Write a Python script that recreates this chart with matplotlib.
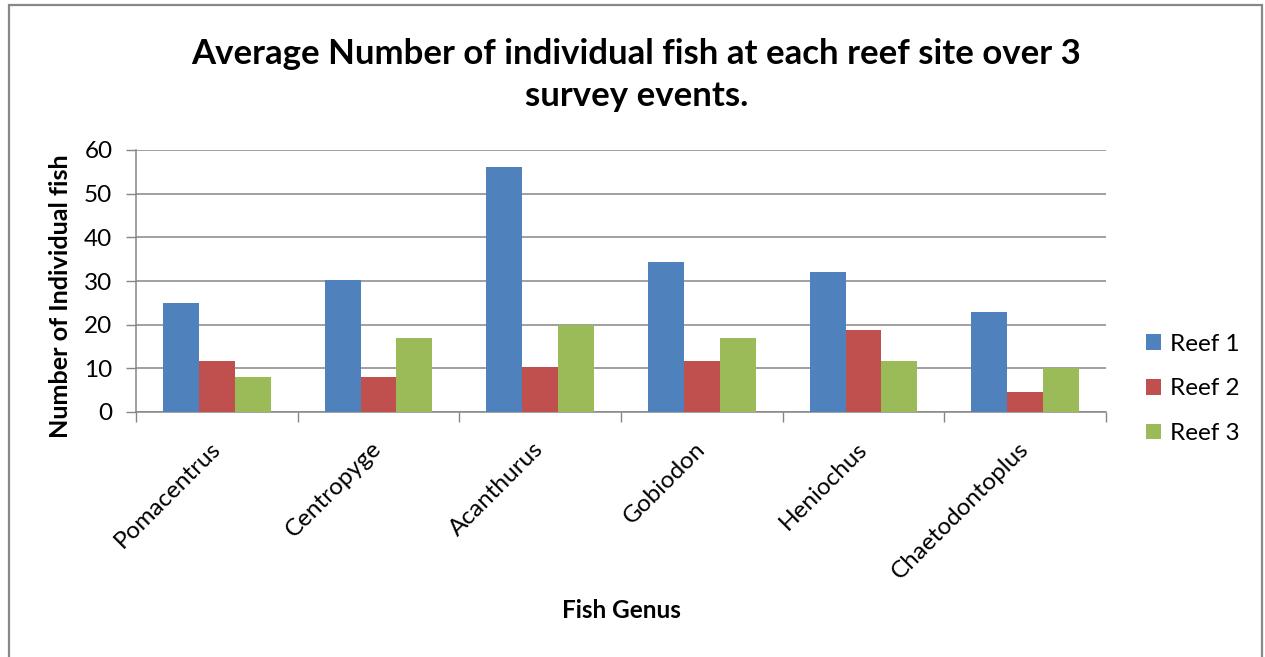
import matplotlib
matplotlib.use("Agg")
import matplotlib.pyplot as plt
import numpy as np
from matplotlib.patches import Rectangle

plt.rcParams["font.family"] = ["Lato", "DejaVu Sans"]

genera = ["Pomacentrus", "Centropyge", "Acanthurus", "Gobiodon", "Heniochus", "Chaetodontoplus"]
reef1 = [25, 30.33, 56, 34.33, 32, 23]
reef2 = [11.67, 8, 10.33, 11.67, 18.67, 4.67]
reef3 = [8, 17, 20, 17, 11.67, 10]
series_names = ["Reef 1", "Reef 2", "Reef 3"]
colors = ["#4F81BD", "#C0504D", "#9BBB59"]
y_ticks = [0, 10, 20, 30, 40, 50, 60]

W, H = 1265, 657
fig = plt.figure(figsize=(W / 100, H / 100), dpi=100)
ax = fig.add_axes([136 / W, 1 - 412 / H, (1106 - 136) / W, (412 - 150) / H])

x = np.arange(len(genera))
bw = 0.222
for i, (vals, name, c) in enumerate(zip([reef1, reef2, reef3], series_names, colors)):
    ax.bar(x + (i - 1) * bw, vals, width=bw, color=c, label=name, zorder=3)

grid_c = "#868686"
fs = 17.5
ax.set_xlim(-0.5, len(genera) - 0.5)
ax.set_ylim(0, 60)
ax.set_yticks(y_ticks)
ax.yaxis.grid(True, color=grid_c, linewidth=1.1, zorder=0)
ax.tick_params(axis="y", length=7, width=1, color=grid_c, labelsize=fs, pad=10)
ax.set_xticks(x)
ax.set_xticklabels(genera, rotation=45, ha="right", va="center", rotation_mode="anchor")
ax.tick_params(axis="x", which="major", length=0, labelsize=fs, pad=24)
ax.set_xticks(np.arange(len(genera) + 1) - 0.5, minor=True)
ax.tick_params(axis="x", which="minor", length=7, width=1, color=grid_c)
for s in ["top", "right"]:
    ax.spines[s].set_visible(False)
for s in ["left", "bottom"]:
    ax.spines[s].set_color(grid_c)
    ax.spines[s].set_linewidth(1.1)

ax.set_ylabel("Number of Individual fish", fontsize=18.2, fontweight="bold")
ax.yaxis.set_label_coords(-0.066, 0.441)
ax.set_xlabel("Fish Genus", fontsize=fs, fontweight="bold")
ax.xaxis.set_label_coords(0.5, -0.715)

fig.text(0.503, 1 - 75 / H, "Average Number of individual fish at each reef site over 3\nsurvey events.",
         ha="center", va="center", fontsize=25, fontweight="bold", linespacing=1.38)

ax.legend(loc="center left", bbox_to_anchor=(1146 / 970 - 136 / 970, 0.088), frameon=False,
          fontsize=fs, handlelength=0.6, handleheight=0.6, handletextpad=0.4,
          labelspacing=0.98, borderaxespad=0, borderpad=0)

fig.patches.append(Rectangle((9 / W, -0.05), (1262 - 9) / W, 1.05 - 5 / H,
                             transform=fig.transFigure, fill=False,
                             edgecolor="#888888", linewidth=1.6, figure=fig))

fig.savefig("out.png", dpi=100)
